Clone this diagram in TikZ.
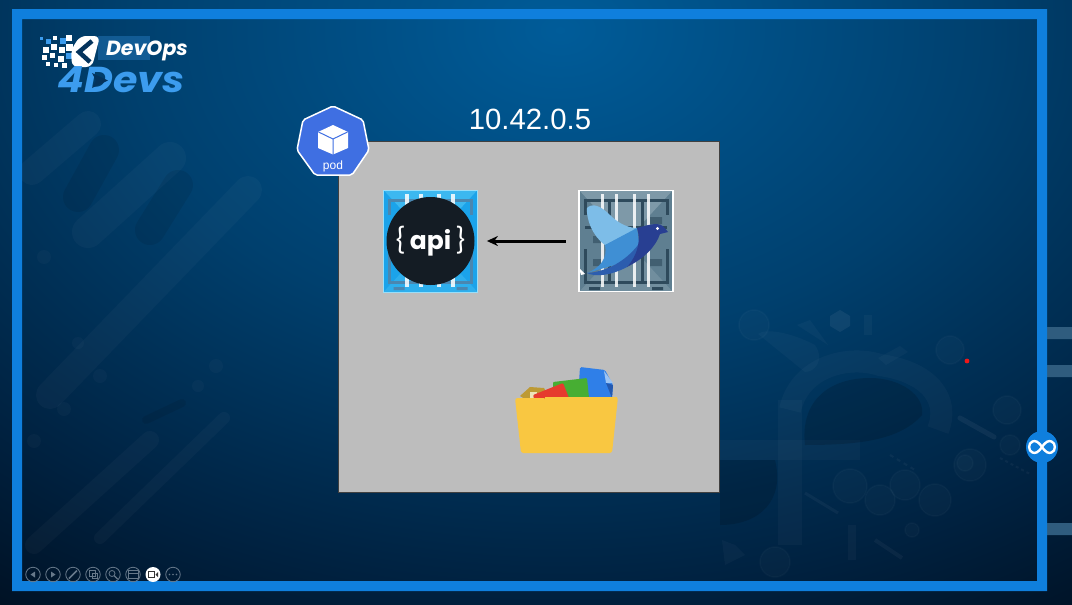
\documentclass[tikz,border=0pt]{standalone}
\usepackage{fontspec}
\setmainfont{Liberation Sans}
\newfontfamily\popfont{Poppins}
\usetikzlibrary{arrows.meta,shapes.geometric}
\definecolor{framec}{HTML}{0F7FDD}
\definecolor{podc}{HTML}{3F6FE2}
\definecolor{grayc}{HTML}{BDBDBD}
\definecolor{stubc}{HTML}{2F5C7E}
\definecolor{logoc}{HTML}{3C9CEE}
\definecolor{toolc}{HTML}{66788A}
\definecolor{circc}{HTML}{141C24}
\definecolor{logodark}{HTML}{04335C}
\pgfdeclareradialshading{bgshade}{\pgfpointorigin}{
  rgb(0bp)=(0,0.36,0.60);
  rgb(12bp)=(0,0.25,0.43);
  rgb(22bp)=(0,0.13,0.25);
  rgb(29bp)=(0,0.05,0.11);
  rgb(50bp)=(0,0.03,0.08)}
\tikzset{
  x=1pt,y=-1pt,
  HTML/.code={\definecolor{tmpfillc}{HTML}{#1}\tikzset{fill=tmpfillc}},
  lite/.style={white,opacity=.028,line cap=round},
  darkbar/.style={black,opacity=.08,line cap=round},
  ghost/.style={white,opacity=.028},
  ghostl/.style={draw=white,draw opacity=.025,line width=1.5,fill=none},
  toolbtn/.style={circle,draw=toolc,line width=.8,minimum size=14.5,inner sep=0},
  icon/.style={draw=toolc,line width=.8},
  jailbar/.style={white,opacity=.85,line width=3.2},
  jailframe/.style={draw=jaild,line width=3,fill=none},
  jail/.pic={
    \fill[jailtri] (-47,-51) -- (47,-51) -- (0,0) -- cycle;
    \fill[jailtri,opacity=.6] (-47,51) -- (47,51) -- (0,0) -- cycle;
    \draw[jailframe] (-41,-26) -- (-41,-41) -- (41,-41) -- (41,-26);
    \draw[jailframe] (-41,8) -- (-41,41) -- (41,41) -- (41,8);
    \draw[jailframe] (-41,-14) -- (41,-14);
    \draw[jailframe] (-17,-41) -- (-17,41);
    \draw[jailframe] (16,-41) -- (16,41);
    \fill[jaild,opacity=.6] (-33,-5) rectangle (-22,2) (-33,18) rectangle (-22,25) (24,18) rectangle (36,25) (24,-24) rectangle (36,-17);
    \foreach \bx in {-23.5,-9.5,8.5,22.5}{\draw[jailbar] (\bx,-47) -- (\bx,46);}
    \fill[jaild] (-37,46) rectangle (-26,49) (26,46) rectangle (37,49);
  }
}
\begin{document}
\begin{tikzpicture}
\useasboundingbox (0,0) rectangle (1072,605);
\clip (0,0) rectangle (1072,605);
% background
\shade[shading=bgshade] (-340,-610) rectangle (1460,670);
% decoration left
\begin{scope}
\draw[lite,line width=26] (32,172) -- (88,124);
\draw[darkbar,line width=30] (78,197) -- (104,150);
\draw[lite,line width=32] (88,232) -- (170,158);
\draw[darkbar,line width=30] (150,230) -- (178,185);
\draw[lite,line width=28] (50,395) -- (248,190);
\draw[lite,line width=12] (100,538) -- (224,418);
\draw[lite,line width=18] (34,545) -- (150,440);
\draw[darkbar,line width=8] (146,420) -- (182,403);
\foreach \dx/\dy/\dr in {44/257/7,216/366/7,198/386/6,100/376/7,78/343/6,64/409/7,34/441/7}
  \fill[white,opacity=.025] (\dx,\dy) circle (\dr);
\end{scope}
% decoration right
\begin{scope}
\fill[ghost] (720,440) rectangle (860,460);
\fill[ghost] (778,400) rectangle (802,545);
\draw[white,opacity=.028,line width=22] (790,410) .. controls (800,365) and (850,355) .. (880,365) .. controls (930,372) and (950,400) .. (938,430);
\fill[black,opacity=.14] (805,445) .. controls (800,400) and (830,378) .. (870,378) .. controls (900,378) and (925,395) .. (922,415) .. controls (900,440) and (860,445) .. (805,445) -- cycle;
\fill[black,opacity=.14] (720,460) -- (775,460) .. controls (785,500) and (760,525) .. (720,525) -- cycle;
\fill[ghost] (758,334) .. controls (765,328) and (790,332) .. (815,345) .. controls (825,360) and (815,372) .. (805,372) -- cycle;
\fill[white,opacity=.06] (840,310) -- (850,316) -- (850,326) -- (840,332) -- (830,326) -- (830,316) -- cycle;
\draw[white,opacity=.03,line width=8] (868,315) -- (868,335);
\fill[ghost] (878,358) -- (900,346) -- (908,352) -- (886,365) -- cycle;
\fill[ghost] (797,325) -- (810,320) -- (828,345) -- cycle;
\foreach \cx/\cy/\cr in {754/325/15,1007/410/14,970/465/16,850/486/17,905/485/15,880/500/15,935/500/16,775/562/15,912/530/7,950/350/14,965/463/8,1010/445/10}
  {\draw[ghostl] (\cx,\cy) circle (\cr);\fill[white,opacity=.02] (\cx,\cy) circle (\cr);}
\draw[white,opacity=.05,line width=5,line cap=round] (960,418) -- (994,437);
\draw[white,opacity=.04,line width=3] (805,493) -- (838,513);
\draw[white,opacity=.04,line width=4] (875,540) -- (902,558);
\draw[white,opacity=.04,line width=2,dash pattern=on 3 off 3] (1000,458) -- (1030,474);
\draw[white,opacity=.04,line width=2,dash pattern=on 4 off 4] (890,455) -- (915,470);
\fill[white,opacity=.03] (848,525) rectangle (856,560);
\fill[ghost] (722,540) -- (735,545) -- (745,555) -- (725,565) -- cycle;
\end{scope}
% frame
\fill[stubc] (1040,327) rectangle (1072,339) (1040,365) rectangle (1072,377) (1040,523) rectangle (1072,535);
\fill[framec,even odd rule] (12,9) rectangle (1047,591) (22,19) rectangle (1037,581);
% logo
\fill[logoc,opacity=.3] (98,36) rectangle (150,60);
\foreach \px/\py/\ps/\pc in {40/37/3/logoc,46/39/5/logoc,53/36/4/white,60/38/6/logoc,66/35/6/white,43/47/6/white,51/44/6/white,59/47/6/white,66/44/7/white,42/55/5/white,50/53/5/white,58/56/6/white,66/53/6/logoc,46/62/4/white,54/63/4/white,62/63/5/white}
  \fill[\pc] (\px,\py) rectangle ++(\ps,\ps);
\fill[white,rounded corners=6] (80,36) -- (100,36) -- (92,67) -- (72,67) -- (71,50) -- cycle;
\draw[logodark,line width=4.5] (92,41) -- (79,52) -- (90,62);
\node[text=white,inner sep=0] (logotop) at (147,50.5) {\fontsize{20.5}{21}\selectfont\popfont\bfseries\itshape DevOps};
\node[text=logoc,inner sep=0] (logobot) at (121,80) {\scalebox{1.1}[1]{\fontsize{36}{36}\selectfont\popfont\bfseries\itshape 4Devs}};
\fill[logodark] (92,73) -- (108,80.5) -- (92,88) -- (96,80.5) -- cycle;
% title
\node[text=white,inner sep=0] (ip) at (530,119.5) {\fontsize{29.3}{30}\selectfont 10.42.0.5};
% pod box
\node[draw=black!75,line width=.8,fill=grayc,minimum width=381,minimum height=351,inner sep=0,anchor=north west] (podbox) at (338,141) {};
% pod badge
\fill[podc,draw=white,line width=1.5,line join=round,rounded corners=2] (333,106) -- (363,120) -- (369,150) -- (352,175) -- (315,175) -- (297,150) -- (303,120) -- cycle;
\fill[white] (333,125) -- (348,132) -- (348,148) -- (333,154.5) -- (318,148) -- (318,132) -- cycle;
\draw[podc,line width=1] (318.5,132) -- (333,139) -- (347.5,132) (333,139) -- (333,155);
\node[text=white,inner sep=0] (podlabel) at (333,166) {\fontsize{12}{12}\selectfont pod};
% api image
\fill[HTML=1BA3EA] (383.5,190) rectangle (477.5,292);
\definecolor{jaild}{HTML}{4A87B0}
\definecolor{jailtri}{HTML}{3CB8F0}
\pic at (430.5,241) {jail};
\node[draw=white!60!cyan,line width=.8,fill=none,minimum width=94,minimum height=102,inner sep=0] (apibox) at (430.5,241) {};
\node[circle,fill=circc,minimum size=88,inner sep=0] (apicircle) at (430.5,241) {};
\node[text=white,inner sep=0] (apilabel) at (430.5,241) {\fontsize{25}{25}\selectfont\popfont \{\,\textbf{api}\,\}};
% bird image
\fill[HTML=5F7F91] (578.5,190) rectangle (673.5,292);
\definecolor{jaild}{HTML}{2E4A5C}
\definecolor{jailtri}{HTML}{7E99A8}
\pic at (626,241) {jail};
\node[draw=white,line width=1.2,fill=none,minimum width=94,minimum height=101,inner sep=0] (birdbox) at (626,241) {};
% bird
\fill[HTML=7DBDE8] (587,208) .. controls (592,203) and (600,205) .. (610,215) .. controls (620,225) and (630,228) .. (637,228) -- (632,238) -- (605,245) .. controls (592,236) and (586,218) .. (587,208) -- cycle;
\fill[HTML=3F8FD4] (605,245) -- (637,228) -- (640,248) -- (618,264) -- (587,273) .. controls (600,268) and (608,258) .. (605,245) -- cycle;
\fill[HTML=2C5DAE] (587,273) .. controls (605,272) and (625,262) .. (638,245) -- (644,252) -- (627,267) .. controls (610,276) and (595,277) .. (587,273) -- cycle;
\fill[HTML=283F92] (637,228) .. controls (645,226) and (650,224) .. (657,224) .. controls (662,224) and (665,228) .. (668,232) -- (660,234) .. controls (656,246) and (645,258) .. (627,267) .. controls (638,255) and (641,240) .. (637,228) -- cycle;
\fill[white] (657.5,228.5) circle (1.6);
\fill[white] (579,268) -- (585,274) -- (581,275) -- cycle;
% arrow
\draw[{Stealth[length=11,width=10]}-,black,line width=3,shorten <=9,shorten >=12] (apibox.east) -- (birdbox.west);
% folder
\fill[HTML=BD9A34] (520,396) -- (530,387) -- (544,388) -- (550,400) -- (530,402) -- cycle;
\fill[HTML=EDE3B8] (530,392) rectangle (537,398);
\fill[HTML=2F7FE8,rounded corners=1.5] (580,367) -- (605,370) -- (613,385) -- (612,398) -- (578,398) -- cycle;
\fill[HTML=9CC4F4] (604,371) -- (613,383) -- (606,383) -- cycle;
\fill[HTML=2459B0] (606,383) -- (613,385) -- (612,398) -- cycle;
\fill[HTML=47AE33,rounded corners=1] (553,382) -- (587,378) -- (589,398) -- (553,398) -- cycle;
\fill[HTML=E63B2E,rounded corners=1] (533,395) -- (563,383) -- (569,398) -- (550,398) -- (545,402) -- (535,402) -- cycle;
\fill[HTML=F9C741,rounded corners=2.5] (515,398) -- (545,398) -- (550,402) -- (618,397) -- (612,453) -- (521,453) -- cycle;
\fill[HTML=F9C741] (545,397) -- (617,397) -- (617,404) -- (545,404) -- cycle;
% red dot
\fill[HTML=F01818] (967,361) circle (2.4);
% infinity badge
\node[circle,fill=framec,minimum size=32,inner sep=0] (infbadge) at (1042,447) {};
\draw[white,line width=2.4] (1042,447) .. controls (1038,441) and (1035,440.5) .. (1032.5,441.5) .. controls (1028,443) and (1028,451) .. (1032.5,452.5) .. controls (1035,453.5) and (1038,453) .. (1042,447) .. controls (1046,441) and (1049,440.5) .. (1051.5,441.5) .. controls (1056,443) and (1056,451) .. (1051.5,452.5) .. controls (1049,453.5) and (1046,453) .. (1042,447) -- cycle;
% toolbar
\foreach \tname/\tx in {ta/33,tb/53,tc/73,td/93,te/113,tf/133,th/173}
  \node[toolbtn] (\tname) at (\tx,574.5) {};
\node[circle,fill=white,minimum size=15,inner sep=0] (tg) at (153,574.5) {};
\fill[toolc] (35,571.5) -- (30.5,574.5) -- (35,577.5) -- cycle;
\fill[toolc] (51,571.5) -- (55.5,574.5) -- (51,577.5) -- cycle;
\draw[toolc,line width=1.5] (69,578.5) -- (77,570.5);
\draw[icon] (89,570) rectangle (95,576) (92,573) rectangle (97.5,578.5);
\draw[icon] (112,573.5) circle (3);
\draw[toolc,line width=1.3] (114.2,575.7) -- (117.5,579);
\draw[icon] (128,570.5) rectangle (138,578.5) (128,573) -- (138,573);
\draw[black!80,line width=.8] (148.5,571.5) rectangle (154.5,577.5);
\fill[black!80] (155.5,574.5) -- (158,572) -- (158,577) -- cycle;
\fill[toolc] (169.5,574.5) circle (.9) (173,574.5) circle (.9) (176.5,574.5) circle (.9);
\end{tikzpicture}
\end{document}
